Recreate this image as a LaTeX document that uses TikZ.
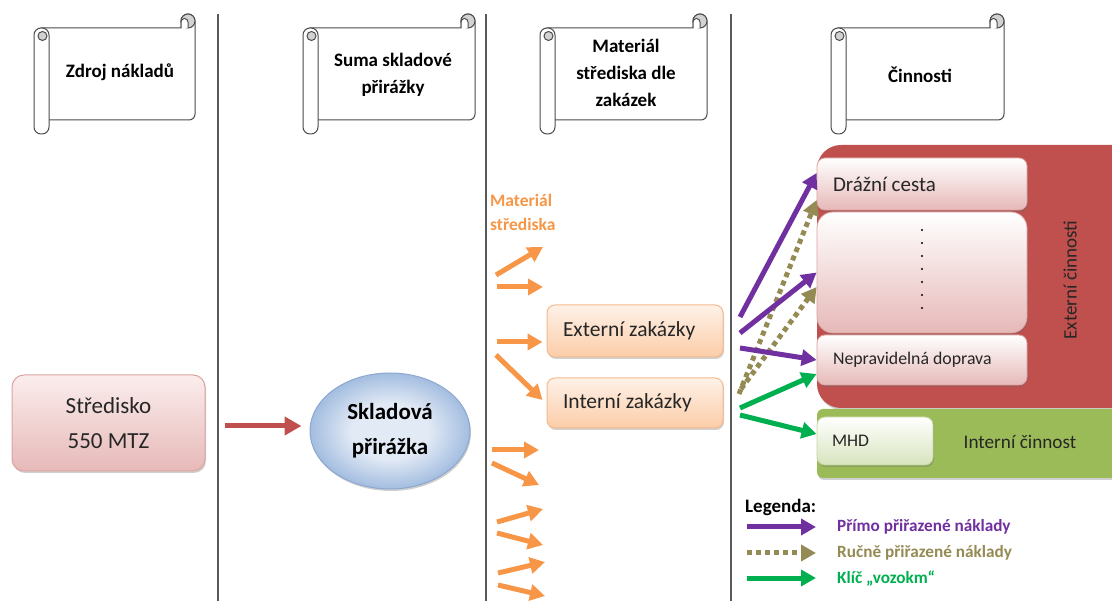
\documentclass[tikz,border=0pt]{standalone}
\usepackage{fontspec}
\setmainfont{Carlito}
\usetikzlibrary{arrows.meta,shapes.geometric,shadows,calc}

\definecolor{accOrange}{HTML}{F79646}
\definecolor{accPurple}{HTML}{7030A0}
\definecolor{accOlive}{HTML}{948A54}
\definecolor{accGreen}{HTML}{00B050}
\definecolor{accRed}{HTML}{C0504D}
\definecolor{accLime}{HTML}{9BBB59}
\definecolor{pinkTop}{HTML}{FBEDED}
\definecolor{pinkBot}{HTML}{E6B9B8}
\definecolor{pinkEdge}{HTML}{DDA3A2}
\definecolor{peachTop}{HTML}{FEF1E8}
\definecolor{peachBot}{HTML}{FBCDA8}
\definecolor{peachEdge}{HTML}{F6B98C}
\definecolor{ovalIn}{HTML}{E2EAF5}
\definecolor{ovalOut}{HTML}{A3BDE0}
\definecolor{blueEdge}{HTML}{8CA8CF}
\definecolor{limeBot}{HTML}{D7E4BD}
\definecolor{limeEdge}{HTML}{C3D69B}
\definecolor{ruleGray}{HTML}{595959}
\definecolor{inkText}{HTML}{262626}

% soft radial fill for the overhead oval
\pgfdeclareradialshading{ovalshade}{\pgfpoint{0bp}{0bp}}{%
  color(0bp)=(ovalIn); color(12bp)=(ovalIn); color(25bp)=(ovalOut); color(50bp)=(ovalOut)}

% scroll banner: left x, top y, right x, bottom y
\newcommand\drawscroll[4]{%
  \draw[scrollline,fill=white] (#1+7,#2) -- (#3-14,#2) -- (#3-14,#2-7)
    arc[start angle=180,end angle=0,radius=7pt] -- (#3,#4-6)
    arc[start angle=0,end angle=-90,radius=6pt] -- (#1+7,#4) -- cycle;
  \draw[scrollline,fill=gray!35] (#3-7,#2-7) circle[radius=7pt];
  \draw[scrollline,fill=white] (#3-14,#2) -- (#3-14,#2-6)
    arc[start angle=180,end angle=0,radius=3.5pt] -- (#3-7,#2);
  \draw[scrollline,fill=white,rounded corners=7pt] (#1,#2) rectangle (#1+15,#4+14);
  \draw[scrollline,fill=gray!35] (#1+8.5,#2+8) circle[radius=4.5pt];
}

\begin{document}
\begin{tikzpicture}[x=1pt,y=-1pt,
  scrollline/.style={draw=black!70,line width=1pt},
  scrolltxt/.style={font=\fontsize{19}{27}\selectfont\bfseries,align=center,text=black},
  softshadow/.style={drop shadow={shadow xshift=1pt,shadow yshift=-2pt,opacity=0.3,fill=black!60}},
  stredbox/.style={rectangle,rounded corners=12pt,draw=pinkEdge,line width=1pt,
    top color=pinkTop,bottom color=pinkBot,minimum width=193pt,minimum height=96pt,
    font=\fontsize{23}{35}\selectfont,align=center,text=inkText,softshadow},
  oval/.style={ellipse,draw=blueEdge,line width=1pt,shading=ovalshade,
    minimum width=160pt,minimum height=116pt,inner sep=0pt,
    font=\fontsize{23}{35}\selectfont\bfseries,align=center,text=black,softshadow},
  zakbox/.style={rectangle,rounded corners=8pt,draw=peachEdge,line width=1pt,
    top color=peachTop,bottom color=peachBot,minimum width=176pt,inner xsep=16pt,
    text width=144pt,align=flush left,font=\fontsize{21.5}{26}\selectfont,text=inkText,softshadow},
  actbox/.style={rectangle,rounded corners=8pt,draw=pinkEdge,line width=0.8pt,
    top color=white,bottom color=pinkBot,minimum width=210pt,inner xsep=16pt,
    text width=178pt,align=flush left,text=inkText,softshadow},
  mhdbox/.style={rectangle,rounded corners=8pt,draw=limeEdge,line width=0.8pt,
    top color=white,bottom color=limeBot,minimum width=116pt,minimum height=48pt,
    inner xsep=15pt,text width=86pt,align=flush left,font=\fontsize{17.7}{21}\selectfont,
    text=inkText,softshadow},
  tipbig/.style={-{Triangle[length=15pt,width=16pt]}},
  orangearrow/.style={draw=accOrange,line width=5pt,tipbig},
  purplearrow/.style={draw=accPurple,line width=5pt,tipbig},
  olivearrow/.style={draw=accOlive,line width=5pt,dash pattern=on 5pt off 4pt,tipbig},
  greenarrow/.style={draw=accGreen,line width=5pt,tipbig},
  redarrow/.style={draw=accRed,line width=5pt,-{Triangle[length=17pt,width=18pt]}},
  legtxt/.style={anchor=west,inner sep=0pt,font=\fontsize{17.2}{20}\selectfont\bfseries},
]
\clip (0,0) rectangle (1112,601);
\fill[white] (0,0) rectangle (1112,601);

% column separators
\draw[ruleGray,line width=1.2pt] (218,14) -- (218,601);
\draw[ruleGray,line width=1.2pt] (486,14) -- (486,601);
\draw[ruleGray,line width=1.2pt] (731,14) -- (731,601);

% column headings on scroll banners
\drawscroll{34}{28}{195}{120}
\drawscroll{303}{28}{475}{120}
\drawscroll{540}{28}{707}{120}
\drawscroll{831}{28}{1004}{120}
\node[scrolltxt] (h1) at (120,72) {Zdroj nákladů};
\node[scrolltxt] (h2) at (393,75) {Suma skladové\\přirážky};
\node[scrolltxt] (h3) at (626,73) {Materiál\\střediska dle\\zakázek};
\node[scrolltxt] (h4) at (920,75) {Činnosti};

% cost source and overhead
\node[stredbox] (stred) at (108.5,423) {Středisko\\550 MTZ};
\node[oval] (skl) at (390,431) {Skladová\\přirážka};
\draw[redarrow] ($(stred.east)+(19,3)$) -- ($(stred.east -| skl.west)+(-8,3)$);

% material of the cost centre
\node[anchor=west,inner sep=0pt,align=flush left,text=accOrange,
  font=\fontsize{17.5}{24}\selectfont\bfseries] (matlbl) at (490,212) {Materiál\\střediska};
\node[zakbox,minimum height=52pt] (extz) at (635,331) {Externí zakázky};
\node[zakbox,minimum height=50pt] (intz) at (635,403) {Interní zakázky};

\coordinate (o1s) at (496,275); \coordinate (o1e) at (543,247);
\coordinate (o2s) at (497,287); \coordinate (o2e) at (543,287);
\coordinate (o3s) at (497,342);
\coordinate (o4s) at (496,355);
\coordinate (o5s) at (492,450); \coordinate (o5e) at (539,450);
\coordinate (o6s) at (492,463); \coordinate (o6e) at (539,485);
\coordinate (o7s) at (497,522); \coordinate (o7e) at (543,509);
\coordinate (o8s) at (497,533); \coordinate (o8e) at (543,545);
\coordinate (o9s) at (498,573); \coordinate (o9e) at (545,562);
\coordinate (o10s) at (498,585); \coordinate (o10e) at (545,596);
\draw[orangearrow] (o1s) -- (o1e);
\draw[orangearrow] (o2s) -- (o2e);
\draw[orangearrow] (o3s) -- ([xshift=-4pt,yshift=-11pt]extz.west);
\draw[orangearrow] (o4s) -- ([xshift=-4pt,yshift=3pt]intz.west);
\draw[orangearrow] (o5s) -- (o5e);
\draw[orangearrow] (o6s) -- (o6e);
\draw[orangearrow] (o7s) -- (o7e);
\draw[orangearrow] (o8s) -- (o8e);
\draw[orangearrow] (o9s) -- (o9e);
\draw[orangearrow] (o10s) -- (o10e);

% activities
\fill[accRed,rounded corners=24pt,softshadow] (817,145) rectangle (1150,408);
\fill[accLime,rounded corners=6pt,softshadow] (817,409) rectangle (1150,478);
\node[actbox,minimum height=52pt,font=\fontsize{21}{25}\selectfont] (drz) at (922,184) {Drážní cesta};
\node[actbox,rounded corners=16pt,minimum height=121pt] (blank) at (922,272.5) {};
\node[actbox,minimum height=50pt,font=\fontsize{17.8}{21}\selectfont] (nep) at (922,360) {Nepravidelná doprava};
\node[mhdbox] (mhd) at (875,441) {MHD};
\foreach \k in {0,...,6} \fill[black] (922,230+13*\k) circle[radius=1.2pt];
\node[rotate=90,font=\fontsize{19}{23}\selectfont,text=inkText] (extlbl) at (1070,280) {Externí činnosti};
\node[font=\fontsize{19.2}{23}\selectfont,text=inkText] (intlbl) at (1020,442) {Interní činnost};

% cost assignment
\coordinate (p1s) at (740,317);
\coordinate (p2s) at (740,333);
\coordinate (p3s) at (740,348);
\coordinate (q1s) at (739,394);
\coordinate (q2s) at (741,389);
\coordinate (g1s) at (740,408);
\coordinate (g2s) at (740,415);
\draw[olivearrow] (q1s) -- ([yshift=-16pt]drz.west);
\draw[olivearrow] (q2s) -- ([yshift=-14.5pt]blank.west);
\draw[purplearrow] (p1s) -- ([yshift=11pt]drz.west);
\draw[purplearrow] (p2s) -- (blank.west);
\draw[purplearrow] (p3s) -- (nep.west);
\draw[greenarrow] (g1s) -- ([yshift=-14pt]nep.west);
\draw[greenarrow] (g2s) -- ([yshift=7pt]mhd.west);

% legend
\node[anchor=west,inner sep=0pt,font=\fontsize{19}{23}\selectfont\bfseries] (leg) at (745,507) {Legenda:};
\coordinate (l1s) at (747,527); \coordinate (l1e) at (816,527);
\coordinate (l2s) at (747,553); \coordinate (l2e) at (816,553);
\coordinate (l3s) at (747,578); \coordinate (l3e) at (816,578);
\draw[purplearrow] (l1s) -- (l1e);
\draw[olivearrow] (l2s) -- (l2e);
\draw[greenarrow] (l3s) -- (l3e);
\node[legtxt,text=accPurple] (lt1) at (837,527) {Přímo přiřazené náklady};
\node[legtxt,text=accOlive] (lt2) at (837,553) {Ručně přiřazené náklady};
\node[legtxt,text=accGreen] (lt3) at (837,578) {Klíč „vozokm“};
\end{tikzpicture}
\end{document}
